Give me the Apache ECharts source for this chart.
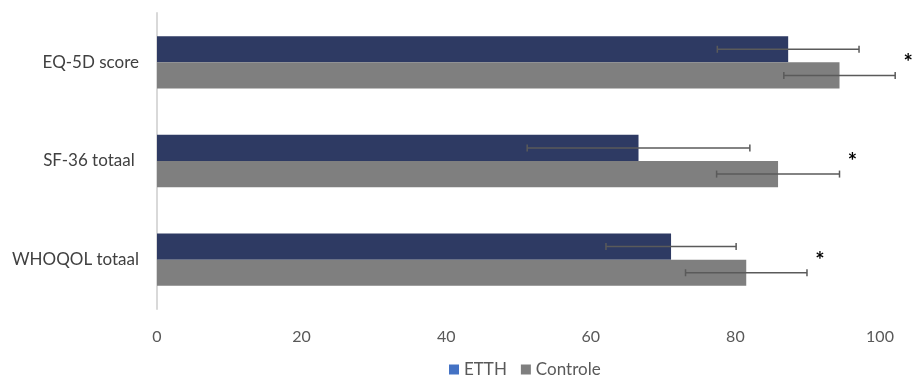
<!DOCTYPE html>
<html>
<head>
<meta charset="utf-8">
<script src="https://cdn.jsdelivr.net/npm/echarts@6/dist/echarts.min.js"></script>
<style>
  html, body { margin: 0; padding: 0; background: #fff; }
  #chart { width: 912px; height: 379px; }
</style>
</head>
<body>
<div id="chart"></div>
<script>
// Quality-of-life scores per questionnaire: mean with standard deviation
const categories = ['EQ-5D score', 'SF-36 totaal ', 'WHOQOL totaal'];
const etthMean = [87.3, 66.6, 71.1];
const etthSd = [9.8, 15.4, 9.0];
const controleMean = [94.4, 85.9, 81.5];
const controleSd = [7.7, 8.5, 8.4];
const significance = ['*', '*', '*'];
const xTicks = [0, 20, 40, 60, 80, 100];

const FONT = 'Lato, "Open Sans", sans-serif';
const ETTH_COLOR = '#2E3A63';
const CONTROLE_COLOR = '#7F7F7F';
const ERR_COLOR = '#5A5A5A';

// Reverse so the first category sits at the top of the vertical axis
const catRev = categories.slice().reverse();
const rev = a => a.slice().reverse();

const chart = echarts.init(document.getElementById('chart'), null, { renderer: 'canvas' });

// Error whisker drawn within one bar slot; offsetSign: -1 upper bar (ETTH), +1 lower bar (Controle)
function errorRenderer(offsetSign, withMark) {
  return function (params, api) {
    const cat = api.value(0);
    const mean = api.value(1);
    const sd = api.value(2);
    const mark = api.value(3);
    const lo = api.coord([mean - sd, cat]);
    const hi = api.coord([mean + sd, cat]);
    const band = api.size([0, 1])[1];
    const barH = band * 0.265;
    const y = lo[1] + offsetSign * barH / 2;
    const cap = 3.5;
    const style = { stroke: ERR_COLOR, lineWidth: 1.5 };
    const children = [
      { type: 'line', shape: { x1: lo[0], y1: y, x2: hi[0], y2: y }, style },
      { type: 'line', shape: { x1: lo[0], y1: y - cap, x2: lo[0], y2: y + cap }, style },
      { type: 'line', shape: { x1: hi[0], y1: y - cap, x2: hi[0], y2: y + cap }, style }
    ];
    if (withMark) {
      children.push({
        type: 'text',
        style: {
          text: mark, x: hi[0] + 13, y: lo[1] + 1,
          fill: '#000', font: 'bold 22px ' + FONT,
          textAlign: 'center', textVerticalAlign: 'middle'
        }
      });
    }
    return { type: 'group', children };
  };
}

const etthErr = rev(etthMean).map((m, i) => [i, m, rev(etthSd)[i], '']);
const controleErr = rev(controleMean).map((m, i) => [i, m, rev(controleSd)[i], rev(significance)[i]]);

chart.setOption({
  animation: false,
  textStyle: { fontFamily: FONT },
  grid: { left: 157, right: 32, top: 13, bottom: 70, containLabel: false },
  legend: {
    bottom: -4,
    left: 444,
    itemWidth: 10,
    itemHeight: 10,
    itemGap: 14,
    icon: 'rect',
    textStyle: { color: '#595959', fontSize: 17, fontFamily: FONT },
    data: [
      { name: 'ETTH', itemStyle: { color: '#4472C4' } },
      { name: 'Controle', itemStyle: { color: '#7F7F7F' } }
    ]
  },
  xAxis: {
    type: 'value',
    min: xTicks[0],
    max: xTicks[xTicks.length - 1],
    interval: 20,
    axisLine: { show: false },
    axisTick: { show: false },
    splitLine: { show: false },
    axisLabel: { color: '#595959', fontSize: 16, margin: 20, fontFamily: FONT }
  },
  yAxis: {
    type: 'category',
    data: catRev,
    axisLine: { show: true, lineStyle: { color: '#D9D9D9', width: 2 } },
    axisTick: { show: false },
    axisLabel: { color: '#404040', fontSize: 17, margin: 18, fontFamily: FONT }
  },
  series: [
    {
      name: 'ETTH', type: 'bar', data: rev(etthMean),
      itemStyle: { color: ETTH_COLOR },
      barGap: '0%', barCategoryGap: '47%'
    },
    {
      name: 'Controle', type: 'bar', data: rev(controleMean),
      itemStyle: { color: CONTROLE_COLOR }
    },
    {
      type: 'custom', name: 'ETTH err', data: etthErr,
      encode: { x: 1, y: 0 }, renderItem: errorRenderer(-1, false),
      z: 10, clip: false, silent: true
    },
    {
      type: 'custom', name: 'Controle err', data: controleErr,
      encode: { x: 1, y: 0 }, renderItem: errorRenderer(1, true),
      z: 10, clip: false, silent: true
    }
  ]
});
</script>
</body>
</html>
